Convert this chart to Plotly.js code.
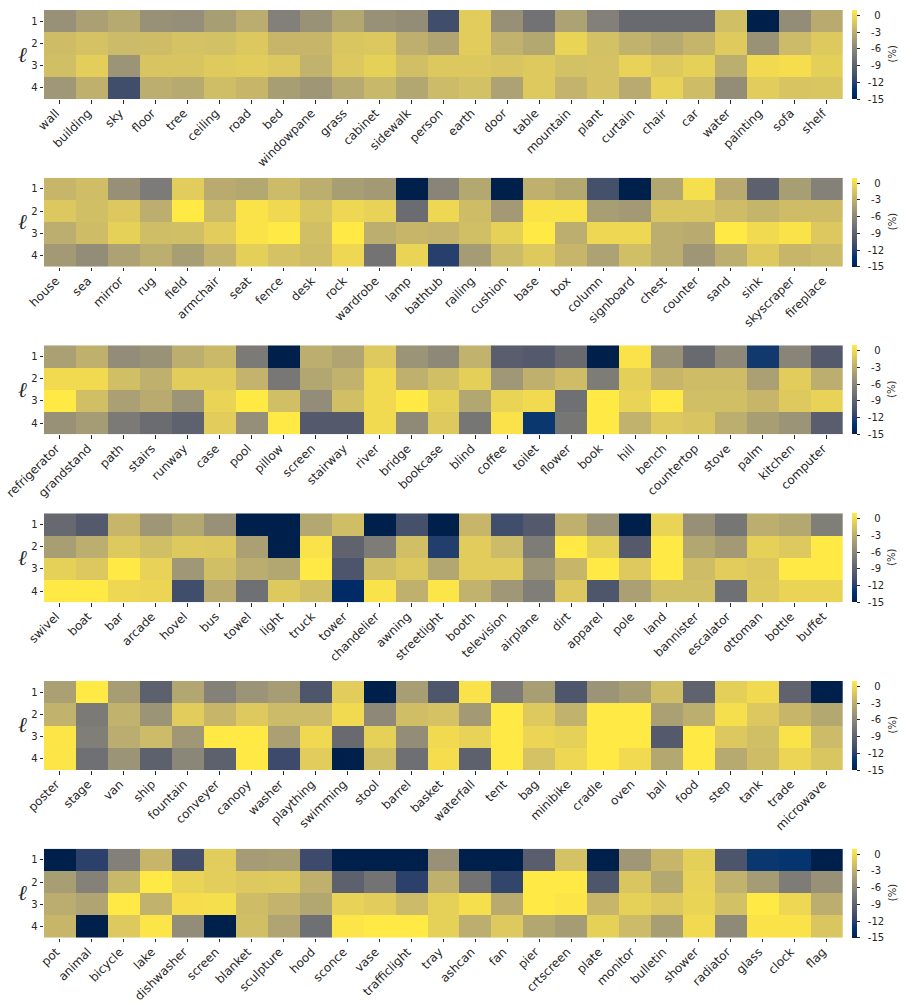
<!DOCTYPE html>
<html>
<head>
<meta charset="utf-8">
<script src="https://cdn.plot.ly/plotly-3.0.1.min.js"></script>
<style>
  html, body { margin: 0; padding: 0; background: #fff; }
</style>
</head>
<body>
<div id="plot-container" style="width:904px;height:1004px;"></div>
<script>
const levels = [1, 2, 3, 4];
const colorTicks = [-15, -12, -9, -6, -3, 0];

const labels1 = ['wall','building','sky','floor','tree','ceiling','road','bed','windowpane','grass','cabinet','sidewalk','person','earth','door','table','mountain','plant','curtain','chair','car','water','painting','sofa','shelf'];
const values1 = [
  [-5.2,-4.1,-3.3,-5.2,-5.4,-4.2,-3.1,-6.6,-5.1,-3.5,-5.2,-5.5,-11,-0.9,-5.3,-7.7,-3.9,-6.6,-8.4,-8.4,-8.4,-1.8,-15,-5.5,-3.2],
  [-2,-1.6,-2.1,-2,-1.6,-1.7,-1.2,-2.4,-2.4,-1.3,-1.2,-2.9,-3.8,-0.9,-2.7,-3.5,-0.4,-1.7,-2.7,-3.3,-2.5,-1,-5.1,-2.1,-1.1],
  [-1.8,-0.8,-5,-1.4,-1.4,-1,-0.9,-1.2,-2.7,-1.2,-0.6,-1.8,-1.2,-1.2,-1.4,-1.1,-1.7,-1.6,-0.5,-1.1,-0.6,-3,0,0.2,-0.7],
  [-4.7,-2.8,-11,-3,-3.3,-1.9,-2.4,-4.2,-4.8,-3.3,-2.3,-3.6,-2.1,-1.7,-3.9,-1.1,-2.6,-1.6,-3.2,-0.5,-2,-5.5,-0.9,-1.4,-1.3]
];

const labels2 = ['house','sea','mirror','rug','field','armchair','seat','fence','desk','rock','wardrobe','lamp','bathtub','railing','cushion','base','box','column','signboard','chest','counter','sand','sink','skyscraper','fireplace'];
const values2 = [
  [-2.4,-1.9,-5.3,-7,-0.9,-3.2,-3.5,-2.1,-3,-4.2,-4.5,-15,-6.2,-3.5,-15,-2.8,-3.5,-10.7,-15,-3.6,0.3,-3.2,-9.2,-4.2,-6.5],
  [-1.2,-1.8,-1.2,-3,1,-2.1,0.6,-0.1,-1.3,-0.2,-0.5,-8.2,-0.2,-2,-4.5,0.6,0.6,-4.2,-4.5,-1.3,-1.3,-2,-2.5,-2,-2],
  [-3,-2,-0.6,-1.9,-1.8,-0.9,0.6,1,-1.8,1,-3,-2.4,-2.6,-1.8,-0.6,1,-3,-0.2,-0.2,-3,-3.2,1,0,0.6,-1.2],
  [-4.5,-5.5,-3.9,-3,-4.2,-2.6,-0.7,-1.6,-2,-0.2,-7.6,-0.4,-12.2,-4.4,-2.1,-1.1,-2.4,-3.9,-1.8,-3,-4.8,-3,-1.1,-2.4,-2.1]
];

const labels3 = ['refrigerator','grandstand','path','stairs','runway','case','pool','pillow','screen','stairway','river','bridge','bookcase','blind','coffee','toilet','flower','book','hill','bench','countertop','stove','palm','kitchen','computer'];
const values3 = [
  [-4.1,-2.8,-5.6,-5.1,-3,-2.2,-7.1,-15,-3,-3.8,-1.1,-5,-5.9,-2.7,-9.5,-9.8,-8.4,-15,0.5,-5.2,-8.4,-5.9,-12.7,-6.2,-9.8],
  [0,0,-1.8,-2.8,-0.9,-0.9,-2.6,-7.3,-3.6,-2.7,0,-2.8,-1.8,-0.7,-4.7,-2.8,-2,-6.9,-0.7,-2.4,-2,-2,-4.1,-0.9,-3],
  [1,-1.8,-4.1,-3.2,-5,-0.4,1,-1.8,-5.6,-1.8,0,1,-0.6,-3.6,-0.4,0,-7.9,1,-0.4,1,-1.8,-1.8,-2.4,-1.1,-0.5],
  [-5.2,-4.4,-7.1,-8.2,-9.1,-0.9,-5.4,1,-9.8,-9.8,0,-5.8,-1.1,-7.4,0.5,-12.9,-7.4,1,-2.7,-1.1,-1.4,-3,-4.2,-5,-9.5]
];

const labels4 = ['swivel','boat','bar','arcade','hovel','bus','towel','light','truck','tower','chandelier','awning','streetlight','booth','television','airplane','dirt','apparel','pole','land','bannister','escalator','ottoman','bottle','buffet'];
const values4 = [
  [-8.5,-9.8,-2.4,-4.8,-3.5,-5.2,-15,-15,-3.5,-1.9,-15,-10.7,-15,-2.4,-11,-9.8,-2.8,-5,-15,-0.4,-5.3,-7.4,-3,-3.5,-6.7],
  [-4.2,-3,-1.1,-1.8,-1.1,-1.2,-4.1,-15,0.5,-9,-6.9,-1.8,-12.3,-0.9,-2.1,-6.9,1,-0.6,-9.8,1,-3.6,-4.5,-0.6,-1.1,1],
  [-0.6,-1.2,1,-0.5,-4.7,-1.8,-3.1,-3.6,1,-10.3,-1.9,-1.2,-3.6,-0.9,-0.9,-5,-2.4,1,-1.1,1,-2,-0.9,-1.2,1,1],
  [1,1,-0.2,-0.3,-11,-3.2,-7.9,-1.1,-1.8,-14,0.5,-2.8,0.7,-2.7,-4.7,-6.7,-1.2,-10.2,-4.1,-1.8,-1.8,-7.9,-1.1,-0.4,-0.4]
];

const labels5 = ['poster','stage','van','ship','fountain','conveyer','canopy','washer','plaything','swimming','stool','barrel','basket','waterfall','tent','bag','minibike','cradle','oven','ball','food','step','tank','trade','microwave'];
const values5 = [
  [-4.1,1,-4.3,-9.2,-3.6,-6.5,-5,-4.3,-10.2,-0.9,-15,-4.2,-10.2,0.5,-7.1,-4.2,-10.2,-5,-4.2,-1.9,-9,-0.7,0,-9,-15],
  [-2.7,-7.1,-2.7,-5,-0.9,-2.4,-1.1,-2.1,-2.1,0,-5.9,-1.9,-1.6,-4.5,1,-1.1,-2.7,1,1,-4.1,-3,0.3,-1.2,-2.4,-3.5],
  [0.8,-6.7,-3.1,-2.1,-4.7,1,1,-4.1,-0.1,-8.4,-0.6,-5.5,0,-0.5,1,-0.3,-0.6,1,1,-9.8,1,-1.2,-1.8,0.6,-2.1],
  [0.8,-7.9,-5,-9.2,-6,-9.2,1,-11.2,-0.9,-15,-1.8,-8,0.2,-9.2,1,-1.6,-0.2,1,0,-3.5,1,-3.3,-2,-0.3,-1.3]
];

const labels6 = ['pot','animal','bicycle','lake','dishwasher','screen','blanket','sculpture','hood','sconce','vase','trafficlight','tray','ashcan','fan','pier','crtscreen','plate','monitor','bulletin','shower','radiator','glass','clock','flag'];
const values6 = [
  [-15,-12,-6.6,-2.4,-10.8,-0.9,-4.4,-4.2,-11.2,-15,-15,-15,-5.2,-15,-15,-9.5,-1.6,-15,-4.7,-2.4,-0.7,-10.3,-12.9,-13,-15],
  [-4.2,-6.5,-2.3,1,-0.4,-0.8,-1.1,-1,-2.8,-9.2,-7.6,-12,-2.8,-7.6,-11.7,1,1,-10.2,-1.3,-3.5,-0.5,-2.7,-4.4,-6.9,-5.2],
  [-3.1,-3.8,1,-2.7,0.2,0.3,-2,-2.6,-3.6,-0.5,-0.9,-2.1,-0.6,0.3,-3.2,1,0.8,-2.4,-0.6,-1.2,-0.4,-1.7,1,-0.2,-3],
  [-2.4,-15,-1.1,0.7,-5.6,-15,-1.8,-3.8,-7.9,0.7,1,1,-0.6,-3,-1.1,-3.6,-4.4,-0.6,-2.1,-4.2,0,-5.8,0.6,0.6,-1.3]
];

const panels = [
  { labels: labels1, values: values1, top: 10 },
  { labels: labels2, values: values2, top: 177.7 },
  { labels: labels3, values: values3, top: 345.3 },
  { labels: labels4, values: values4, top: 513.3 },
  { labels: labels5, values: values5, top: 681 },
  { labels: labels6, values: values6, top: 848.7 }
];

const W = 904, H = 1004;
const panelH = 89, plotLeft = 44, plotRight = 842.7, barLeft = 852;
const font = 'DejaVu Sans, sans-serif';

// colour bar labels sit centred in the reference, plotly only left aligns them
function padTick(v) {
  const s = String(v);
  const pad = s.length === 1 ? 4 : s.length === 2 ? 3 : 2;
  return '\u00a0'.repeat(pad) + s;
}

const traces = [];
const layout = {
  width: W,
  height: H,
  margin: { t: 0, r: 0, b: 0, l: 0 },
  paper_bgcolor: '#ffffff',
  plot_bgcolor: '#ffffff',
  font: { family: font, color: '#262626', size: 10 },
  showlegend: false,
  annotations: []
};

panels.forEach((p, i) => {
  const n = i === 0 ? '' : String(i + 1);
  const yTop = 1 - p.top / H;
  const yBottom = 1 - (p.top + panelH) / H;

  traces.push({
    type: 'heatmap',
    x: p.labels,
    y: levels,
    z: p.values,
    xaxis: 'x' + n,
    yaxis: 'y' + n,
    coloraxis: 'coloraxis' + n,
    xgap: 0,
    ygap: 0
  });

  layout['xaxis' + n] = {
    type: 'category',
    domain: [plotLeft / W, plotRight / W],
    anchor: 'y' + n,
    range: [-0.5, 24.5],
    tickmode: 'array',
    tickvals: p.labels,
    ticktext: p.labels,
    tickangle: -45,
    ticklabelstandoff: -2,
    ticklabelshift: -4,
    ticks: 'outside',
    ticklen: 3.5,
    tickwidth: 0.8,
    tickcolor: '#262626',
    tickfont: { family: font, size: 12, color: '#262626' },
    showgrid: false,
    zeroline: false,
    showline: false
  };
  layout['yaxis' + n] = {
    domain: [yBottom, yTop],
    anchor: 'x' + n,
    range: [4.5, 0.5],
    tickmode: 'array',
    tickvals: levels,
    ticks: 'outside',
    ticklen: 3.5,
    tickwidth: 0.8,
    tickcolor: '#262626',
    tickfont: { family: font, size: 10, color: '#262626' },
    showgrid: false,
    zeroline: false,
    showline: false
  };
  layout['coloraxis' + n] = {
    colorscale: 'Cividis',
    cmin: -15,
    cmax: 1,
    colorbar: {
      x: barLeft / W,
      xanchor: 'left',
      xpad: 0,
      y: yTop,
      yanchor: 'top',
      ypad: 0,
      thicknessmode: 'pixels',
      thickness: 5,
      lenmode: 'pixels',
      len: panelH,
      outlinewidth: 0,
      ticks: 'outside',
      ticklen: 3,
      tickwidth: 0.8,
      tickcolor: '#262626',
      tickmode: 'array',
      tickvals: colorTicks,
      ticktext: colorTicks.map(padTick),
      tickfont: { family: font, size: 10, color: '#262626' }
    }
  };

  // level symbol on the left, unit beside the colour bar
  layout.annotations.push({
    text: '<i>ℓ</i>',
    xref: 'paper',
    yref: 'paper',
    x: 22 / W,
    y: (yTop + yBottom) / 2,
    xanchor: 'center',
    yanchor: 'middle',
    showarrow: false,
    font: { family: 'DejaVu Serif, serif', size: 21, color: '#262626' }
  });
  layout.annotations.push({
    text: '(%)',
    xref: 'paper',
    yref: 'paper',
    x: 892 / W,
    y: (yTop + yBottom) / 2,
    xanchor: 'center',
    yanchor: 'middle',
    textangle: -90,
    showarrow: false,
    font: { family: font, size: 10, color: '#262626' }
  });
});

Plotly.newPlot('plot-container', traces, layout, { displayModeBar: false, responsive: false });
</script>
</body>
</html>
